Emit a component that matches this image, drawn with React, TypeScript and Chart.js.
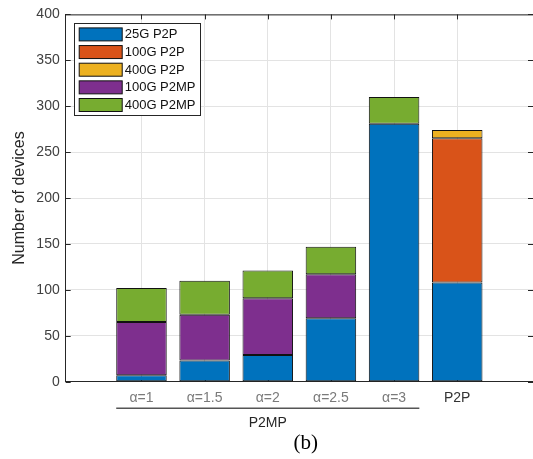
import React, { useEffect, useRef } from 'react';
import { Chart, registerables } from 'chart.js';

Chart.register(...registerables);

// ---- data ----
const categories = ['α=1', 'α=1.5', 'α=2', 'α=2.5', 'α=3', 'P2P'];
const positions = [1, 2, 3, 4, 5, 6];
const seriesNames = ['25G P2P', '100G P2P', '400G P2P', '100G P2MP', '400G P2MP'];
const s25GP2P = [7, 23, 29, 69, 281, 108];
const s100GP2P = [null, null, null, null, null, 157];
const s400GP2P = [null, null, null, null, null, 9];
const s100GP2MP = [58, 50, 62, 48, null, null];
const s400GP2MP = [37, 37, 30, 30, 29, null];
const seriesColors = ['#0072BD', '#D95319', '#EDB120', '#7E2F8E', '#77AC30'];
const yTicks = [0, 50, 100, 150, 200, 250, 300, 350, 400];
const groupLabel = 'P2MP';
const groupFirst = 1;
const groupLast = 5;
const caption = '(b)';
const yTitle = 'Number of devices';

const AXIS = '#262626';
const GRID = '#e3e3e3';
const SANS = '"Liberation Sans", Arial, sans-serif';

export default function App() {
  const ref = useRef<HTMLCanvasElement | null>(null);

  useEffect(() => {
    document.body.style.margin = '0';
    const canvas = ref.current;
    if (!canvas) return;
    const all = [s25GP2P, s100GP2P, s400GP2P, s100GP2MP, s400GP2MP];
    const datasets = all.map((arr, k) => ({
      label: seriesNames[k],
      data: arr.map((v, i) => ({ x: positions[i], y: v })),
      backgroundColor: seriesColors[k],
      borderColor: '#111',
      borderWidth: 1,
      borderSkipped: false as const,
      barPercentage: 1,
      categoryPercentage: 0.8,
    }));

    const decor = {
      id: 'decor',
      beforeDatasetsDraw(chart: any) {
        const { ctx, chartArea: ca, scales } = chart;
        const x = scales.x, y = scales.y;
        ctx.save();
        ctx.strokeStyle = AXIS;
        ctx.lineWidth = 1;
        // top border
        ctx.beginPath();
        ctx.moveTo(ca.left, ca.top + 0.5);
        ctx.lineTo(ca.right, ca.top + 0.5);
        ctx.stroke();
        // inward ticks
        const tl = 5;
        ctx.beginPath();
        yTicks.forEach((v) => {
          const py = Math.round(y.getPixelForValue(v)) + 0.5;
          ctx.moveTo(ca.left, py);
          ctx.lineTo(ca.left + tl, py);
          ctx.moveTo(ca.right, py);
          ctx.lineTo(ca.right - tl, py);
        });
        positions.forEach((v) => {
          const px = Math.round(x.getPixelForValue(v)) + 0.5;
          ctx.moveTo(px, ca.bottom);
          ctx.lineTo(px, ca.bottom - tl);
          ctx.moveTo(px, ca.top);
          ctx.lineTo(px, ca.top + tl);
        });
        ctx.stroke();
        ctx.restore();
      },
      afterDraw(chart: any) {
        const { ctx, chartArea: ca, scales } = chart;
        const x = scales.x;
        ctx.save();
        // group line
        const x0 = x.getPixelForValue(groupFirst - 0.4);
        const x1 = x.getPixelForValue(groupLast + 0.4);
        ctx.strokeStyle = '#555';
        ctx.lineWidth = 1.5;
        ctx.beginPath();
        ctx.moveTo(x0, ca.bottom + 26.5);
        ctx.lineTo(x1, ca.bottom + 26.5);
        ctx.stroke();
        // group label
        ctx.fillStyle = AXIS;
        ctx.font = `14px ${SANS}`;
        ctx.textAlign = 'center';
        ctx.textBaseline = 'middle';
        ctx.fillText(groupLabel, x.getPixelForValue((groupFirst + groupLast) / 2), ca.bottom + 41);
        // caption
        ctx.fillStyle = '#000';
        ctx.font = `21px "Liberation Serif", "Times New Roman", serif`;
        ctx.fillText(caption, x.getPixelForValue(3.6), ca.bottom + 62);
        // legend
        const lx = ca.left + 8.5, ly = ca.top + 8.5;
        const lw = 126, lh = 92;
        ctx.fillStyle = '#fff';
        ctx.fillRect(lx, ly, lw, lh);
        ctx.strokeStyle = AXIS;
        ctx.lineWidth = 1;
        ctx.strokeRect(Math.round(lx) + 0.5, Math.round(ly) + 0.5, lw, lh);
        chart.data.datasets.forEach((ds: any, i: number) => {
          const cy = ly + 11.5 + i * 17.65;
          ctx.fillStyle = ds.backgroundColor;
          ctx.fillRect(lx + 5, cy - 6.5, 43, 13);
          ctx.strokeStyle = '#111';
          ctx.strokeRect(lx + 5, cy - 6.5, 43, 13);
          ctx.fillStyle = '#111';
          ctx.font = `13px ${SANS}`;
          ctx.textAlign = 'left';
          ctx.textBaseline = 'middle';
          ctx.fillText(ds.label, lx + 50.5, cy + 0.5);
        });
        ctx.restore();
      },
    };

    const chart = new Chart(canvas, {
      type: 'bar',
      data: { datasets: datasets as any },
      options: {
        animation: false,
        responsive: false,
        devicePixelRatio: 1,
        layout: { padding: { top: 12.7, right: 0, bottom: 0, left: 0 } },
        plugins: { legend: { display: false }, tooltip: { enabled: false } },
        scales: {
          x: {
            type: 'linear',
            stacked: true,
            offset: false,
            min: -0.2,
            max: 7.2,
            afterBuildTicks: (s: any) => {
              s.ticks = positions.map((v) => ({ value: v }));
            },
            afterFit: (s: any) => {
              s.height = 77.3;
            },
            grid: { color: GRID, drawTicks: false, lineWidth: 1, offset: false },
            border: { display: true, color: AXIS, width: 1 },
            ticks: {
              padding: 8,
              maxRotation: 0,
              autoSkip: false,
              font: { family: SANS, size: 14 },
              color: (c: any) => (c.tick && c.tick.value === 6 ? '#333' : '#7a7a7a'),
              callback: (v: any) => categories[positions.indexOf(Number(v))] ?? '',
            },
          },
          y: {
            stacked: true,
            min: 0,
            max: 400,
            afterBuildTicks: (s: any) => {
              s.ticks = yTicks.map((v) => ({ value: v }));
            },
            afterFit: (s: any) => {
              s.width = 65.7;
            },
            grid: { color: GRID, drawTicks: false, lineWidth: 1 },
            border: { display: true, color: AXIS, width: 1 },
            ticks: {
              padding: 6,
              font: { family: SANS, size: 14 },
              color: '#404040',
            },
            title: {
              display: true,
              text: yTitle,
              color: AXIS,
              font: { family: SANS, size: 16 },
              padding: { top: 10, bottom: 0 },
            },
          },
        },
      },
      plugins: [decor],
    });
    return () => chart.destroy();
  }, []);

  return (
    <div style={{ width: 533, height: 459, background: '#fff' }}>
      <canvas ref={ref} width={533} height={459} style={{ display: 'block' }} />
    </div>
  );
}
